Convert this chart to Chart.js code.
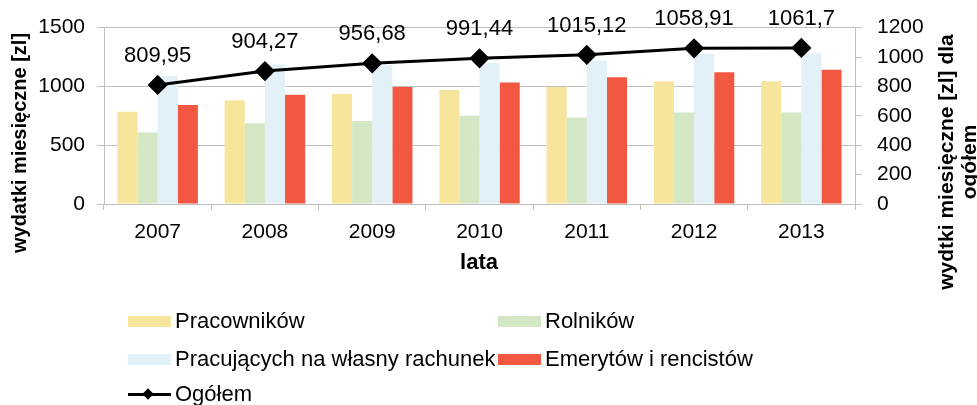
<!DOCTYPE html>
<html>
<head>
<meta charset="utf-8">
<script src="https://cdn.jsdelivr.net/npm/chart.js@4.4.1/dist/chart.umd.min.js"></script>
<style>
  html, body { margin: 0; padding: 0; background: #fff; }
  #wrap { position: relative; width: 977px; height: 405px; overflow: hidden;
          font-family: "Liberation Sans", Arial, sans-serif; }
  #chart { position: absolute; left: 0; top: 0; }
  .leg { position: absolute; font-size: 22px; line-height: 22px; color: #000; white-space: nowrap; }
  .leg .sw { position: absolute; left: 0; top: 6px; width: 43px; height: 11px; }
  .leg .txt { position: absolute; left: 47px; top: 0; }
</style>
</head>
<body>
<div id="wrap">
  <canvas id="chart" width="977" height="405"></canvas>
  <div id="legend"></div>
</div>
<script>
'use strict';

// ── Data ──
const years = ['2007', '2008', '2009', '2010', '2011', '2012', '2013'];
const pracownikow = [785, 883, 936, 970, 995, 1043, 1043];
const rolnikow    = [608, 687, 706, 751, 735, 777, 777];
const pracujacych = [1088, 1186, 1180, 1200, 1220, 1276, 1281];
const emerytow    = [841, 928, 995, 1034, 1077, 1121, 1141];
const ogolem      = [809.95, 904.27, 956.68, 991.44, 1015.12, 1058.91, 1061.7];

const leftTicks  = [0, 500, 1000, 1500];
const rightTicks = [0, 200, 400, 600, 800, 1000, 1200];

const FONT = '"Liberation Sans", Arial, sans-serif';

// Plot area edges
const AREA = { left: 104, right: 855, top: 25, bottom: 204 };

// Custom plugin: value labels above the line points, and the axis titles
const extrasPlugin = {
  id: 'extras',
  afterDatasetsDraw(chart) {
    const c = chart.ctx;
    const meta = chart.getDatasetMeta(4);
    c.save();
    c.fillStyle = '#000';
    c.textAlign = 'center';
    c.textBaseline = 'middle';
    c.font = `22px ${FONT}`;
    meta.data.forEach((pt, i) => {
      c.fillText(String(ogolem[i]).replace('.', ','), pt.x, pt.y - 29);
    });

    c.font = `bold 20px ${FONT}`;
    // left title
    c.save();
    c.translate(20, 143);
    c.rotate(-Math.PI / 2);
    c.fillText('wydatki miesięczne [zl]', 0, 0);
    c.restore();
    // right title (two lines)
    c.font = `bold 21px ${FONT}`;
    c.save();
    c.translate(947, 162);
    c.rotate(-Math.PI / 2);
    c.fillText('wydtki miesięczne [zl] dla', 0, 0);
    c.fillText('ogółem', 0, 23);
    c.restore();
    // x title
    c.font = `bold 22px ${FONT}`;
    c.fillText('lata', 479, 263);
    c.restore();
  }
};

const gridColor = '#BFBFBF';

const chart = new Chart(document.getElementById('chart'), {
  type: 'bar',
  plugins: [extrasPlugin],
  data: {
    labels: years,
    datasets: [
      { label: 'Pracowników', data: pracownikow, backgroundColor: '#F7E59C', yAxisID: 'y', order: 1 },
      { label: 'Rolników', data: rolnikow, backgroundColor: '#D3E7C5', yAxisID: 'y', order: 1 },
      { label: 'Pracujących na własny rachunek', data: pracujacych, backgroundColor: '#E2F0F8', yAxisID: 'y', order: 1 },
      { label: 'Emerytów i rencistów', data: emerytow, backgroundColor: '#F25741', yAxisID: 'y', order: 1 },
      {
        type: 'line', label: 'Ogółem', data: ogolem, yAxisID: 'y2', order: 0,
        borderColor: '#000', backgroundColor: '#000', borderWidth: 3,
        pointStyle: 'rectRot', pointRadius: 8, pointHoverRadius: 8,
        tension: 0, fill: false,
      },
    ]
  },
  options: {
    responsive: false,
    animation: false,
    events: [],
    layout: { padding: { left: 0, right: 0, top: AREA.top, bottom: 0 } },
    categoryPercentage: 0.75,
    barPercentage: 1.0,
    plugins: { legend: { display: false }, tooltip: { enabled: false } },
    scales: {
      x: {
        offset: true,
        grid: { display: true, drawOnChartArea: false, offset: true, color: gridColor, tickLength: 6 },
        border: { color: gridColor },
        ticks: { color: '#000', font: { family: FONT, size: 21 }, padding: 10 },
        afterFit(scale) { scale.height = 405 - AREA.bottom; },
      },
      y: {
        position: 'left',
        min: 0, max: 1500,
        afterBuildTicks(scale) { scale.ticks = leftTicks.map(v => ({ value: v })); },
        grid: { color: gridColor, tickLength: 7 },
        border: { color: gridColor },
        ticks: { color: '#000', font: { family: FONT, size: 21 }, padding: 12, callback: v => String(v) },
        afterFit(scale) { scale.width = AREA.left; },
      },
      y2: {
        position: 'right',
        min: 0, max: 1200,
        afterBuildTicks(scale) { scale.ticks = rightTicks.map(v => ({ value: v })); },
        grid: { drawOnChartArea: false, color: gridColor, tickLength: 7 },
        border: { color: gridColor },
        ticks: { color: '#000', font: { family: FONT, size: 21 }, padding: 15, callback: v => String(v) },
        afterFit(scale) { scale.width = 977 - AREA.right; },
      },
    }
  }
});

// ── HTML legend built from the datasets ──
const legendCols = [128, 498];
const legendRows = [310, 348, 383];
const legend = document.getElementById('legend');
chart.data.datasets.forEach((ds, i) => {
  const item = document.createElement('div');
  item.className = 'leg';
  const col = i < 4 ? i % 2 : 0;
  const row = i < 4 ? Math.floor(i / 2) : 2;
  item.style.left = legendCols[col] + 'px';
  item.style.top = legendRows[row] + 'px';
  const sw = document.createElement('span');
  sw.className = 'sw';
  if (ds.type === 'line') {
    sw.style.top = '10px';
    sw.style.height = '3px';
    sw.style.background = ds.borderColor;
    const dia = document.createElement('span');
    dia.style.cssText = 'position:absolute;left:16px;top:-3px;width:8px;height:8px;background:#000;transform:rotate(45deg);';
    sw.appendChild(dia);
  } else {
    sw.style.background = ds.backgroundColor;
  }
  const txt = document.createElement('span');
  txt.className = 'txt';
  txt.textContent = ds.label;
  item.appendChild(sw);
  item.appendChild(txt);
  legend.appendChild(item);
});
</script>
</body>
</html>
